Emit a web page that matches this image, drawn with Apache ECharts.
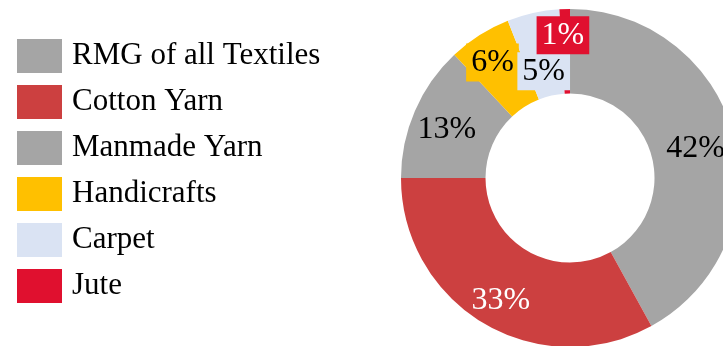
<!DOCTYPE html>
<html>
<head>
<meta charset="utf-8">
<script src="https://cdn.jsdelivr.net/npm/echarts@6/dist/echarts.min.js"></script>
<style>
  html, body { margin: 0; padding: 0; background: #fff; }
  #chart { width: 723px; height: 346px; }
</style>
</head>
<body>
<div id="chart"></div>
<script>
// Export share of textile product groups (%)
const categories = ['RMG of all Textiles', 'Cotton Yarn', 'Manmade Yarn', 'Handicrafts', 'Carpet', 'Jute'];
const shares = [42, 33, 13, 6, 5, 1];

// Slice colours and label text colours, in category order
const sliceColors = ['#A5A5A5', '#CC4040', '#A5A5A5', '#FFC000', '#DAE3F3', '#E0102F'];
const labelColors = ['#000', '#fff', '#000', '#000', '#000', '#fff'];
// Labels on the thin top slices sit on a box of their slice colour
const labelBoxed = [false, false, false, true, true, true];
// Small nudges applied to each label after ECharts places it inside its slice
const labelNudge = [[0, 3], [-3, 11], [-4, 3], [-8, -6], [2, 20], [-3, -13]];

const FONT = '"Liberation Serif", "Times New Roman", serif';

const chart = echarts.init(document.getElementById('chart'), null, { renderer: 'canvas' });

chart.setOption({
  animation: false,
  backgroundColor: '#fff',
  legend: {
    orient: 'vertical',
    left: 17,
    top: 39,
    padding: 0,
    itemWidth: 45,
    itemHeight: 34,
    itemGap: 12,
    icon: 'rect',
    data: categories,
    textStyle: {
      fontFamily: FONT,
      fontSize: 31,
      color: '#000',
      lineHeight: 34,
      padding: [0, 0, 0, 5]
    }
  },
  series: [{
    type: 'pie',
    center: [570, 178],
    radius: [84.5, 169],
    startAngle: 90,
    clockwise: true,
    avoidLabelOverlap: false,
    itemStyle: { borderWidth: 0 },
    label: {
      show: true,
      position: 'inside',
      fontFamily: FONT,
      fontSize: 32,
      formatter: '{c}%'
    },
    labelLine: { show: false },
    emphasis: { disabled: true },
    labelLayout: function (p) {
      const n = labelNudge[p.dataIndex];
      return { dx: n[0], dy: n[1] };
    },
    data: categories.map((name, i) => ({
      name: name,
      value: shares[i],
      itemStyle: { color: sliceColors[i] },
      label: labelBoxed[i]
        ? { color: labelColors[i], backgroundColor: sliceColors[i], padding: [4, 5, 2, 5] }
        : { color: labelColors[i] }
    }))
  }]
});
</script>
</body>
</html>
